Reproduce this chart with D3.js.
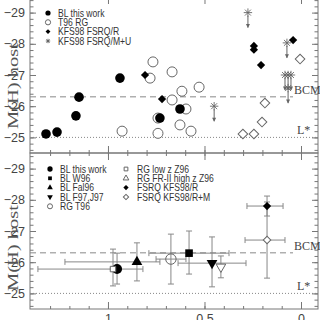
<!DOCTYPE html>
<html><head><meta charset="utf-8">
<script src="https://cdn.jsdelivr.net/npm/d3@7"></script>
<style>html,body{margin:0;padding:0;background:#fff;overflow:hidden}</style>
</head><body><svg id="c" width="320" height="320"></svg>
<script>
// ---- top panel data ----
const blZ = [1.321, 1.264, 1.166, 1.150, 0.938, 0.731, 0.627];
const blM = [-25.11, -25.17, -25.69, -26.29, -26.90, -25.62, -25.91];
const rgZ = [0.927, 0.767, 0.782, 0.741, 0.741, 0.668, 0.668, 0.617, 0.528, 0.596, 0.627, 0.570];
const rgM = [-25.20, -27.42, -26.90, -25.62, -25.13, -27.10, -26.20, -26.48, -26.61, -25.91, -25.40, -25.20];
const fsrqRZ = [0.808, 0.720, 0.244, 0.244, 0.207, 0.041];
const fsrqRM = [-27.00, -26.23, -27.93, -27.81, -27.32, -28.12];
const fsrqOpenZ = [0.187, 0.202, 0.301, 0.244, 0.005];
const fsrqOpenM = [-26.10, -25.49, -25.11, -25.11, -27.51];
const limZ = [0.275, 0.450, 0.073, 0.083, 0.067, 0.052, 0.067];
const limM = [-29.0, -26.0, -28.03, -27.0, -27.0, -27.0, -26.58];
const topLegend = ["BL this work", "T96 RG", "KFS98 FSRQ/R", "KFS98 FSRQ/M+U"];

// ---- bottom panel (averages) ----
const meanNames = ["BL this work", "RG low z Z96", "BL Fal96", "RG T96", "BL W96", "BL F97,J97", "RG FR-II high z Z96", "FSRQ KFS98/R", "FSRQ KFS98/R+M"];
const meanZ   = [0.953, 0.974, 0.850, 0.674, 0.580, 0.461, 0.415, 0.176, 0.176];
const meanM   = [-25.78, -25.78, -26.01, -26.10, -26.29, -25.97, -25.85, -27.80, -26.71];
const meanZLo = [1.363, null, 1.223, 0.751, 0.788, 0.637, null, 0.280, 0.290];
const meanZHi = [0.819, null, 0.731, 0.596, 0.373, 0.285, null, 0.093, 0.083];
const meanMLo = [-26.29, -26.42, -26.62, -26.90, -27.00, -26.81, -26.20, -28.12, -27.93];
const meanMHi = [-25.30, -25.24, -25.40, -25.30, -25.62, -25.21, -25.50, -27.48, -25.49];
const bottomLegendLeft = ["BL this work", "BL W96", "BL Fal96", "BL F97,J97", "RG T96"];
const bottomLegendRight = ["RG low z Z96", "RG FR-II high z Z96", "FSRQ KFS98/R", "FSRQ KFS98/R+M"];

const yTicks = [-29, -28, -27, -26, -25];
const xTicks = [1, 0.5, 0];
const bcmLevel = -26.3, lStarLevel = -25.0;

(function () {
// ---- drawing ----
const svg = d3.select("#c");
const gray = "#777", ink = "#333", light = "#888";
const x = d3.scaleLinear().domain([1.404, -0.088]).range([30, 318]);
const panels = [
  {y: d3.scaleLinear().domain([-24.5, -29.5]).range([153, -3]), top: -3, bot: 153, xlabels: false, labelY: 86},
  {y: d3.scaleLinear().domain([-24.5, -29.5]).range([309, 153]), top: 153, bot: 309, xlabels: true, labelY: 248}
];
const minorY = d3.range(0, 25).map(i => -29.4 + i * 0.2);
const minorX = d3.range(0, 14).map(i => i / 10);
const fmt = d => (d < 0 ? "\u2212" : "") + Math.abs(d);

function styleAxis(g) {
  g.select(".domain").remove();
  g.selectAll("line").attr("stroke", gray);
  g.selectAll("text").attr("fill", "#444").style("font-family", "Liberation Sans, Arial, sans-serif");
}

panels.forEach(p => {
  const y = p.y;
  const g = svg.append("g");
  g.append("rect").attr("x", 30).attr("y", p.top).attr("width", 288).attr("height", p.bot - p.top)
    .attr("fill", "none").attr("stroke", gray);
  g.append("g").attr("transform", "translate(30,0)")
    .call(d3.axisLeft(y).tickValues(minorY).tickSize(-3.5).tickFormat("")).call(styleAxis);
  g.append("g").attr("transform", "translate(30,0)")
    .call(d3.axisLeft(y).tickValues(yTicks).tickSize(-6).tickPadding(5).tickFormat(fmt))
    .call(styleAxis).selectAll("text").style("font-size", "12.5px");
  g.append("g").attr("transform", "translate(318,0)")
    .call(d3.axisRight(y).tickValues(minorY).tickSize(-3.5).tickFormat("")).call(styleAxis);
  g.append("g").attr("transform", "translate(318,0)")
    .call(d3.axisRight(y).tickValues(yTicks).tickSize(-6).tickFormat("")).call(styleAxis);
  g.append("g").attr("transform", `translate(0,${p.bot})`)
    .call(d3.axisBottom(x).tickValues(minorX).tickSize(-3).tickFormat("")).call(styleAxis);
  const bx = g.append("g").attr("transform", `translate(0,${p.bot})`)
    .call(d3.axisBottom(x).tickValues(xTicks).tickSize(-7).tickPadding(5).tickFormat(p.xlabels ? d => String(d) : ""))
    .call(styleAxis);
  bx.selectAll("text").style("font-size", "12.5px");
  g.append("g").attr("transform", `translate(0,${p.top})`)
    .call(d3.axisTop(x).tickValues(minorX).tickSize(-3).tickFormat("")).call(styleAxis);
  g.append("g").attr("transform", `translate(0,${p.top})`)
    .call(d3.axisTop(x).tickValues(xTicks).tickSize(-7).tickFormat("")).call(styleAxis);

  g.append("line").attr("x1", 30).attr("x2", 293).attr("y1", y(bcmLevel)).attr("y2", y(bcmLevel))
    .attr("stroke", light).attr("stroke-dasharray", "6,4");
  g.append("line").attr("x1", 30).attr("x2", 318).attr("y1", y(lStarLevel)).attr("y2", y(lStarLevel))
    .attr("stroke", light).attr("stroke-dasharray", "1,2");
  g.append("text").attr("x", 294).attr("y", y(bcmLevel) - 3).text("BCM")
    .attr("fill", "#444").style("font-family", "Liberation Serif, Times New Roman, serif").style("font-size", "12px");
  g.append("text").attr("x", 297).attr("y", y(lStarLevel) - 3).text("L*")
    .attr("fill", "#444").style("font-family", "Liberation Serif, Times New Roman, serif").style("font-size", "12px");

  g.append("text").attr("transform", `translate(18,${p.labelY}) rotate(-90)`)
    .attr("text-anchor", "middle").attr("fill", "#555")
    .attr("textLength", 86).attr("lengthAdjust", "spacingAndGlyphs")
    .style("font-family", "Liberation Serif, Times New Roman, serif").style("font-size", "15px")
    .text("M(H) host");
});

const sym = (type, size) => d3.symbol().type(type).size(size)();
function asterisk(r) {
  let d = "";
  [0, 45, 90, 135].forEach(a => {
    const t = a * Math.PI / 180, dx = r * Math.cos(t), dy = r * Math.sin(t);
    d += `M${-dx},${-dy}L${dx},${dy}`;
  });
  return d;
}

// ---- top panel marks ----
const yT = panels[0].y;
const topG = svg.append("g");
limZ.forEach((z, i) => {
  const cx = x(z), cy = yT(limM[i]);
  topG.append("path").attr("transform", `translate(${cx},${cy})`).attr("d", asterisk(4.2))
    .attr("stroke", "#666").attr("stroke-width", 0.9).attr("fill", "none");
  topG.append("line").attr("x1", cx).attr("x2", cx).attr("y1", cy + 3).attr("y2", cy + 15)
    .attr("stroke", "#666");
  topG.append("path").attr("d", `M${cx - 2},${cy + 11.5}L${cx},${cy + 15.5}L${cx + 2},${cy + 11.5}Z`)
    .attr("fill", "#666");
});
fsrqOpenZ.forEach((z, i) => topG.append("path").attr("transform", `translate(${x(z)},${yT(fsrqOpenM[i])}) rotate(45)`)
  .attr("d", sym(d3.symbolSquare, 46)).attr("fill", "#fff").attr("stroke", "#666"));
rgZ.forEach((z, i) => topG.append("circle").attr("cx", x(z)).attr("cy", yT(rgM[i])).attr("r", 5)
  .attr("fill", "#fff").attr("stroke", "#666"));
fsrqRZ.forEach((z, i) => topG.append("path").attr("transform", `translate(${x(z)},${yT(fsrqRM[i])}) rotate(45)`)
  .attr("d", sym(d3.symbolSquare, 34)).attr("fill", "#000"));
blZ.forEach((z, i) => topG.append("circle").attr("cx", x(z)).attr("cy", yT(blM[i])).attr("r", 4.8).attr("fill", "#000"));

const legFont = "Liberation Sans, Arial, sans-serif";
function legText(g, tx, ty, s) {
  g.append("text").attr("transform", `translate(${tx},${ty}) scale(0.86,1)`).text(s)
    .attr("fill", ink).style("font-family", legFont).style("font-size", "10px");
}
const tl = svg.append("g");
const topRows = [13, 22.3, 31.6, 41];
topLegend.forEach((s, i) => {
  const my = topRows[i];
  if (i === 0) tl.append("circle").attr("cx", 48).attr("cy", my).attr("r", 2.6).attr("fill", "#000");
  if (i === 1) tl.append("circle").attr("cx", 48).attr("cy", my).attr("r", 2.6).attr("fill", "#fff").attr("stroke", "#666");
  if (i === 2) tl.append("path").attr("transform", `translate(48,${my}) rotate(45)`).attr("d", sym(d3.symbolSquare, 12)).attr("fill", "#000");
  if (i === 3) tl.append("path").attr("transform", `translate(48,${my})`).attr("d", asterisk(2.2)).attr("stroke", "#666").attr("fill", "none");
  legText(tl, 58, my + 3.6, s);
});

// ---- bottom panel marks ----
const yB = panels[1].y;
const botG = svg.append("g");
meanZ.forEach((z, i) => {
  const cx = x(z), cy = yB(meanM[i]);
  const y1 = yB(meanMLo[i]), y2 = yB(meanMHi[i]);
  botG.append("path").attr("d", `M${cx},${y1}V${y2}M${cx - 3},${y1}H${cx + 3}M${cx - 3},${y2}H${cx + 3}`)
    .attr("stroke", light).attr("fill", "none");
  if (meanZLo[i] !== null) {
    const x1 = x(meanZLo[i]), x2 = x(meanZHi[i]);
    botG.append("path").attr("d", `M${x1},${cy}H${x2}M${x1},${cy - 3}V${cy + 3}M${x2},${cy - 3}V${cy + 3}`)
      .attr("stroke", light).attr("fill", "none");
  }
});
const markStyle = [
  {t: d3.symbolCircle, s: 78, fill: "#000", stroke: "none", rot: 0},
  {t: d3.symbolSquare, s: 30, fill: "#fff", stroke: "#666", rot: 0},
  {t: d3.symbolTriangle, s: 50, fill: "#000", stroke: "none", rot: 0},
  {t: d3.symbolCircle, s: 85, fill: "none", stroke: "#666", rot: 0},
  {t: d3.symbolSquare, s: 58, fill: "#000", stroke: "none", rot: 0},
  {t: d3.symbolTriangle, s: 50, fill: "#000", stroke: "none", rot: 180},
  {t: d3.symbolTriangle, s: 40, fill: "#fff", stroke: "#666", rot: 180},
  {t: d3.symbolSquare, s: 34, fill: "#000", stroke: "none", rot: 45},
  {t: d3.symbolSquare, s: 28, fill: "#fff", stroke: "#666", rot: 45}
];
meanZ.forEach((z, i) => {
  const st = markStyle[i];
  botG.append("path").attr("transform", `translate(${x(z)},${yB(meanM[i])}) rotate(${st.rot})`)
    .attr("d", sym(st.t, st.s)).attr("fill", st.fill).attr("stroke", st.stroke);
});

const bl = svg.append("g");
const leftRows = [169, 178.3, 187.6, 197, 206.3];
const leftSyms = [
  {t: d3.symbolCircle, s: 22, fill: "#000", stroke: "none", rot: 0},
  {t: d3.symbolSquare, s: 14, fill: "#000", stroke: "none", rot: 0},
  {t: d3.symbolTriangle, s: 14, fill: "#000", stroke: "none", rot: 0},
  {t: d3.symbolTriangle, s: 14, fill: "#000", stroke: "none", rot: 180},
  {t: d3.symbolCircle, s: 20, fill: "#fff", stroke: "#666", rot: 0}
];
const rightSyms = [
  {t: d3.symbolSquare, s: 14, fill: "#fff", stroke: "#666", rot: 0},
  {t: d3.symbolTriangle, s: 14, fill: "#fff", stroke: "#666", rot: 0},
  {t: d3.symbolSquare, s: 14, fill: "#000", stroke: "none", rot: 45},
  {t: d3.symbolSquare, s: 14, fill: "#fff", stroke: "#666", rot: 45}
];
bottomLegendLeft.forEach((s, i) => {
  const st = leftSyms[i], my = leftRows[i];
  bl.append("path").attr("transform", `translate(50,${my}) rotate(${st.rot})`).attr("d", sym(st.t, st.s))
    .attr("fill", st.fill).attr("stroke", st.stroke);
  legText(bl, 60, my + 3.6, s);
});
bottomLegendRight.forEach((s, i) => {
  const st = rightSyms[i], my = leftRows[i];
  bl.append("path").attr("transform", `translate(126,${my}) rotate(${st.rot})`).attr("d", sym(st.t, st.s))
    .attr("fill", st.fill).attr("stroke", st.stroke);
  legText(bl, 137, my + 3.6, s);
});
})();
</script>
</body></html>
